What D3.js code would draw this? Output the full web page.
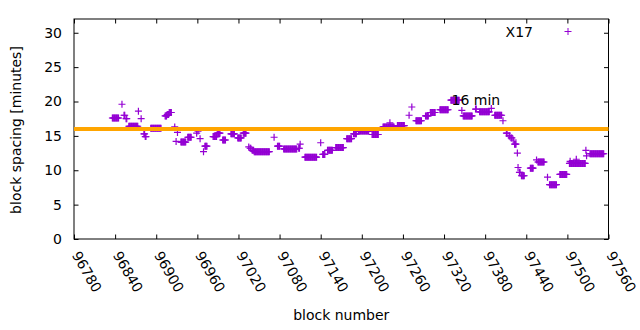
<!DOCTYPE html>
<html>
<head>
<meta charset="utf-8">
<script src="https://d3js.org/d3.v7.min.js"></script>
<style>
  body { margin: 0; background: #fff; }
  text { font-family: "DejaVu Sans", sans-serif; font-size: 14px; fill: #000; }
</style>
</head>
<body>
<script>
var runFrom = [96836,96850,96853,96856,96860,96874,96878,96882,96884,96892,
               96913,96916,96919,96927,96929,96931,96936,96946,96959,96961,
               96964,96969,96971,96983,96989,96997,97009,97019,97027,97035,
               97037,97040,97043,97072,97077,97086,97108,97110,97117,97140,
               97143,97150,97162,97178,97188,97195,97215,97231,97241,97252,
               97269,97273,97279,97293,97300,97314,97330,97346,97348,97366,
               97372,97389,97394,97406,97411,97415,97418,97421,97423,97427,
               97428,97430,97433,97446,97455,97457,97471,97474,97489,97503,
               97504,97513,97527,97528,97533];
var runTo   = [96845,96850,96854,96857,96873,96874,96878,96883,96885,96907,
               96915,96918,96922,96927,96929,96931,96943,96951,96959,96961,
               96964,96969,96974,96988,96993,97001,97014,97024,97031,97035,
               97038,97042,97065,97072,97080,97105,97109,97110,97134,97140,
               97146,97157,97173,97185,97192,97210,97224,97247,97241,97262,
               97269,97273,97287,97297,97307,97326,97342,97346,97361,97367,
               97386,97389,97404,97406,97412,97416,97419,97421,97425,97427,
               97428,97431,97437,97450,97455,97466,97471,97484,97499,97526,
               97504,97513,97527,97528,97553];
var runSpacing = [17.6,19.6,18.0,17.5,16.4,18.6,17.5,15.3,14.9,16.1,
                  17.9,18.1,18.4,16.3,14.2,15.5,14.1,14.8,15.4,15.7,
                  14.6,12.7,13.5,14.9,15.4,14.4,15.3,14.7,15.4,13.4,
                  13.2,12.9,12.7,14.8,13.5,13.1,13.2,13.8,11.9,14.0,
                  12.3,12.9,13.3,14.6,15.3,15.7,15.2,16.3,16.9,16.5,
                  18.0,19.2,17.2,17.9,18.4,18.8,20.2,18.7,17.9,18.9,
                  18.5,19.0,18.0,17.2,15.4,15.0,14.7,14.4,13.8,12.5,
                  10.4,9.7,9.2,10.3,11.5,11.2,9.0,7.9,9.4,11.0,
                  11.3,11.6,12.9,12.1,12.4];

var seriesName = "X17";
var targetSpacing = 16;
var targetLabel = "16 min";
var xTicks = [96780,96840,96900,96960,97020,97080,97140,97200,97260,97320,97380,97440,97500,97560];
var yTicks = [0,5,10,15,20,25,30];

function draw() {
  var width = 640, height = 330;
  var pLeft = 74, pRight = 608.5, pTop = 19, pBottom = 239;

  var points = [];
  runFrom.forEach(function(f, i) {
    for (var b = f; b <= runTo[i]; b++) points.push({block: b, spacing: runSpacing[i]});
  });

  var svg = d3.select("body").append("svg")
    .attr("width", width)
    .attr("height", height);

  var x = d3.scaleLinear().domain([96780, 97560]).range([pLeft, pRight]);
  var y = d3.scaleLinear().domain([0, 32]).range([pBottom, pTop]);

  // axes, gnuplot style: ticks pointing inwards, mirrored on top/right
  var xAxis = svg.append("g")
    .attr("transform", "translate(0," + pBottom + ")")
    .call(d3.axisBottom(x).tickValues(xTicks).tickFormat(d3.format("d")).tickSize(-4.5).tickSizeOuter(0));
  xAxis.selectAll("text")
    .attr("x", 0).attr("y", 0).attr("dy", 0)
    .attr("transform", "translate(-3,16) rotate(60)")
    .style("text-anchor", "start");

  svg.append("g")
    .attr("transform", "translate(0," + pTop + ")")
    .call(d3.axisTop(x).tickValues(xTicks).tickFormat("").tickSize(-4.5).tickSizeOuter(0));

  svg.append("g")
    .attr("transform", "translate(" + pLeft + ",0)")
    .call(d3.axisLeft(y).tickValues(yTicks).tickSize(-4.5).tickSizeOuter(0).tickPadding(12));

  svg.append("g")
    .attr("transform", "translate(" + pRight + ",0)")
    .call(d3.axisRight(y).tickValues(yTicks).tickFormat("").tickSize(-4.5).tickSizeOuter(0));

  svg.selectAll(".domain").remove();
  svg.selectAll(".tick line").attr("stroke", "#000");
  svg.selectAll(".tick text").style("font-size", "14px").attr("fill", "#000")
    .style("font-family", "'DejaVu Sans', sans-serif");

  svg.append("rect")
    .attr("x", pLeft).attr("y", pTop)
    .attr("width", pRight - pLeft).attr("height", pBottom - pTop)
    .style("fill", "none").style("stroke", "#000").style("stroke-width", 1);

  // points
  var plus = "M-3.5,0H3.5M0,-3.5V3.5";
  svg.append("g").selectAll("path")
    .data(points)
    .enter().append("path")
    .attr("d", plus)
    .attr("transform", function(d) { return "translate(" + x(d.block) + "," + y(d.spacing) + ")"; })
    .style("stroke", "#9400d3")
    .style("stroke-width", 1.2)
    .style("fill", "none");

  // 16 minute line
  svg.append("line")
    .attr("x1", pLeft).attr("x2", pRight)
    .attr("y1", y(targetSpacing)).attr("y2", y(targetSpacing))
    .style("stroke", "#ffa500")
    .style("stroke-width", 4);

  svg.append("text")
    .attr("x", x(97331)).attr("y", y(20.2) + 5)
    .text(targetLabel);

  // legend
  svg.append("text")
    .attr("x", 533).attr("y", 36.5)
    .style("text-anchor", "end")
    .text(seriesName);
  svg.append("path")
    .attr("d", plus)
    .attr("transform", "translate(568,31.5)")
    .style("stroke", "#9400d3")
    .style("fill", "none");

  // axis titles
  svg.append("text")
    .attr("x", (pLeft + pRight) / 2).attr("y", 320)
    .style("text-anchor", "middle")
    .text("block number");

  svg.append("text")
    .attr("transform", "translate(21,130) rotate(-90)")
    .style("text-anchor", "middle")
    .text("block spacing [minutes]");
}

draw();
</script>
</body>
</html>
